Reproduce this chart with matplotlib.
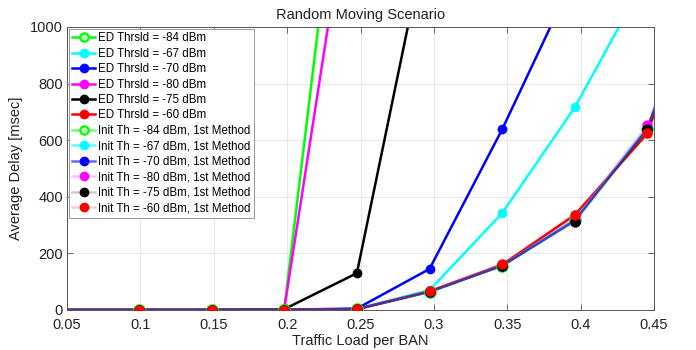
import numpy as np
import matplotlib
matplotlib.use("Agg")
import matplotlib.pyplot as plt
from matplotlib.lines import Line2D

plt.rcParams["font.family"] = ["Liberation Sans", "DejaVu Sans"]

# traffic load per BAN (simulation points)
load = [0.0495, 0.099, 0.1485, 0.198, 0.2475, 0.297, 0.3465, 0.396, 0.4455, 0.495]

# average delay [msec], fixed ED threshold
ed_labels = ["ED Thrsld = -84 dBm", "ED Thrsld = -67 dBm", "ED Thrsld = -70 dBm",
             "ED Thrsld = -80 dBm", "ED Thrsld = -75 dBm", "ED Thrsld = -60 dBm"]
ed_m84 = [0, 0, 0, 3, 2130]
ed_m67 = [0, 0, 0, 1, 4, 70, 342, 716, 1183]
ed_m70 = [0, 0, 0, 1, 5, 145, 638, 1183]
ed_m80 = [0, 0, 0, 3, 1660]
ed_m75 = [0, 0, 0, 3, 130, 1370]
ed_m60 = [0, 0, 0, 1, 3, 66, 160, 336, 624, 1360]

# average delay [msec], adaptive threshold (1st method)
init_labels = ["Init Th = -84 dBm, 1st Method", "Init Th = -67 dBm, 1st Method",
               "Init Th = -70 dBm, 1st Method", "Init Th = -80 dBm, 1st Method",
               "Init Th = -75 dBm, 1st Method", "Init Th = -60 dBm, 1st Method"]
init_m84 = [0, 0, 0, 1, 3, 64, 157, 318, 640, 1350]
init_m67 = [0, 0, 0, 1, 3, 65, 158, 320, 645, 1350]
init_m70 = [0, 0, 0, 1, 3, 64, 156, 316, 640, 1350]
init_m80 = [0, 0, 0, 1, 3, 66, 160, 322, 652, 1370]
init_m75 = [0, 0, 0, 1, 3, 65, 157, 312, 638, 1360]
init_m60 = [0, 0, 0, 1, 3, 66, 161, 334, 626, 1355]

colors = ["#00ff00", "#00ffff", "#0000ff", "#ff00ff", "#000000", "#ff0000"]
init_alpha = [0.55, 0.6, 0.6, 0.25, 0.2, 0.2]

fig = plt.figure(figsize=(6.96, 3.5), dpi=100)
ax = fig.add_axes([0.0963, 0.1143, 0.8434, 0.8086])

ed_series = [ed_m84, ed_m67, ed_m70, ed_m80, ed_m75, ed_m60]
init_series = [init_m84, init_m67, init_m70, init_m80, init_m75, init_m60]

# the first load point sits just left of the axis, so its marker is skipped
skip_first = slice(1, None)

for k, (lab, ys) in enumerate(zip(ed_labels, ed_series)):
    c = colors[k]
    open_mk = (k == 0)
    ax.plot(load[:len(ys)], ys, color=c, lw=1.8, marker="o", markevery=skip_first,
            ms=6.5 if open_mk else 6, mfc="#c8ffc8" if open_mk else c,
            mec=c, mew=1.6 if open_mk else 1, label=lab)

for k, (lab, ys) in enumerate(zip(init_labels, init_series)):
    c = colors[k]
    open_mk = (k == 0)
    ax.plot(load[:len(ys)], ys, color=c, lw=1.8, alpha=init_alpha[k],
            label=lab, zorder=2.5)
    # markers drawn fully opaque on top of the faded line
    ax.plot(load[:len(ys)], ys, ls="none", marker="o", markevery=skip_first,
            ms=7.5 if open_mk else 6.5, mfc="#c8ffc8" if open_mk else c,
            mec=c, mew=1.6 if open_mk else 1, zorder=3)

ax.set_xlim(0.05, 0.45)
ax.set_ylim(0, 1000)
ax.set_xticks(np.arange(0.05, 0.451, 0.05))
ax.set_xticklabels(["0.05", "0.1", "0.15", "0.2", "0.25", "0.3", "0.35", "0.4", "0.45"])
ax.set_yticks(np.arange(0, 1001, 200))
ax.tick_params(direction="in", top=True, right=True, length=4, width=0.6,
               color="#555555", labelsize=10.5, labelcolor="#222222")
ax.tick_params(axis="x", pad=6)
ax.tick_params(axis="y", pad=3)
ax.grid(True, color="#e4e4e4", lw=0.6)
for s in ax.spines.values():
    s.set_color("#555555")
    s.set_linewidth(0.7)

ax.set_xlabel("Traffic Load per BAN", fontsize=10.5, color="#222222", labelpad=1)
ax.set_ylabel("Average Delay [msec]", fontsize=10.5, color="#222222", labelpad=5)
ax.set_title("Random Moving Scenario", fontsize=10.5, color="#222222", pad=6)

# legend handles: ED lines solid, init lines faded with opaque markers
handles = []
for k in range(6):
    c = colors[k]
    open_mk = (k == 0)
    handles.append(Line2D([], [], color=c, lw=1.8, marker="o", ms=6,
                          mfc="#c8ffc8" if open_mk else c, mec=c, mew=1.6 if open_mk else 1))
for k in range(6):
    c = colors[k]
    open_mk = (k == 0)
    lc = matplotlib.colors.to_rgba(c, init_alpha[k])
    handles.append(Line2D([], [], color=lc, lw=1.8, marker="o", ms=6,
                          mfc="#c8ffc8" if open_mk else c, mec=c, mew=1.6 if open_mk else 1))

leg = ax.legend(handles, ed_labels + init_labels, loc="upper left", fontsize=8.3,
                frameon=True, fancybox=False, edgecolor="#888888", framealpha=1,
                borderaxespad=0.15, handlelength=2.0, handletextpad=0.2,
                labelspacing=0.3, borderpad=0.3)
leg.get_frame().set_linewidth(0.6)

fig.savefig("out.png", dpi=100, facecolor="white")
